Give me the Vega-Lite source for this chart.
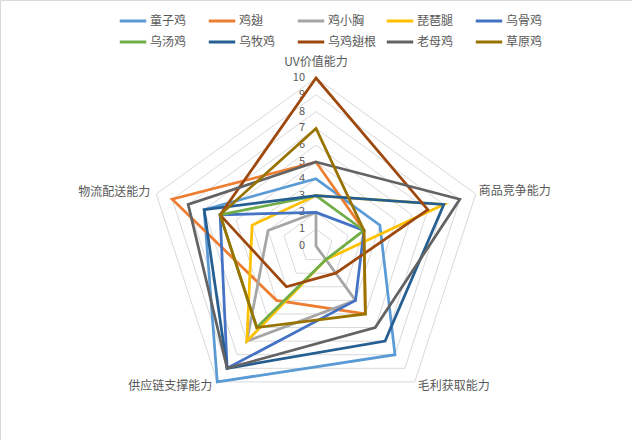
{
  "$schema": "https://vega.github.io/schema/vega-lite/v6.json",
  "width": 632,
  "height": 440,
  "autosize": {"type": "none"},
  "padding": 0,
  "config": {
    "view": {"stroke": "#D9D9D9"},
    "font": "Noto Sans CJK SC",
    "legend": {
      "orient": "none",
      "legendX": 118,
      "legendY": 6,
      "direction": "horizontal",
      "columns": 5,
      "gridAlign": "all",
      "columnPadding": 3,
      "rowPadding": -2,
      "padding": 0,
      "symbolType": "stroke",
      "symbolSize": 700,
      "symbolStrokeWidth": 3,
      "labelFont": "Noto Sans CJK SC",
      "labelFontSize": 12,
      "labelColor": "#595959",
      "labelOffset": 2,
      "title": null
    }
  },
  "datasets": {
    "scores": [
      {"series": "童子鸡", "axis": "UV价值能力", "value": 4},
      {"series": "童子鸡", "axis": "商品竞争能力", "value": 4},
      {"series": "童子鸡", "axis": "毛利获取能力", "value": 8},
      {"series": "童子鸡", "axis": "供应链支撑能力", "value": 10},
      {"series": "童子鸡", "axis": "物流配送能力", "value": 7},
      {"series": "鸡翅", "axis": "UV价值能力", "value": 5},
      {"series": "鸡翅", "axis": "商品竞争能力", "value": 3},
      {"series": "鸡翅", "axis": "毛利获取能力", "value": 5},
      {"series": "鸡翅", "axis": "供应链支撑能力", "value": 4},
      {"series": "鸡翅", "axis": "物流配送能力", "value": 9},
      {"series": "鸡小胸", "axis": "UV价值能力", "value": 2},
      {"series": "鸡小胸", "axis": "商品竞争能力", "value": 0},
      {"series": "鸡小胸", "axis": "毛利获取能力", "value": 4},
      {"series": "鸡小胸", "axis": "供应链支撑能力", "value": 7},
      {"series": "鸡小胸", "axis": "物流配送能力", "value": 3},
      {"series": "琵琶腿", "axis": "UV价值能力", "value": 3},
      {"series": "琵琶腿", "axis": "商品竞争能力", "value": 8},
      {"series": "琵琶腿", "axis": "毛利获取能力", "value": 1},
      {"series": "琵琶腿", "axis": "供应链支撑能力", "value": 7},
      {"series": "琵琶腿", "axis": "物流配送能力", "value": 4},
      {"series": "乌骨鸡", "axis": "UV价值能力", "value": 2},
      {"series": "乌骨鸡", "axis": "商品竞争能力", "value": 3},
      {"series": "乌骨鸡", "axis": "毛利获取能力", "value": 4},
      {"series": "乌骨鸡", "axis": "供应链支撑能力", "value": 9},
      {"series": "乌骨鸡", "axis": "物流配送能力", "value": 6},
      {"series": "乌汤鸡", "axis": "UV价值能力", "value": 3},
      {"series": "乌汤鸡", "axis": "商品竞争能力", "value": 3},
      {"series": "乌汤鸡", "axis": "毛利获取能力", "value": 1},
      {"series": "乌汤鸡", "axis": "供应链支撑能力", "value": 6},
      {"series": "乌汤鸡", "axis": "物流配送能力", "value": 6},
      {"series": "乌牧鸡", "axis": "UV价值能力", "value": 3},
      {"series": "乌牧鸡", "axis": "商品竞争能力", "value": 8},
      {"series": "乌牧鸡", "axis": "毛利获取能力", "value": 7},
      {"series": "乌牧鸡", "axis": "供应链支撑能力", "value": 9},
      {"series": "乌牧鸡", "axis": "物流配送能力", "value": 7},
      {"series": "乌鸡翅根", "axis": "UV价值能力", "value": 10},
      {"series": "乌鸡翅根", "axis": "商品竞争能力", "value": 7},
      {"series": "乌鸡翅根", "axis": "毛利获取能力", "value": 2},
      {"series": "乌鸡翅根", "axis": "供应链支撑能力", "value": 3},
      {"series": "乌鸡翅根", "axis": "物流配送能力", "value": 6},
      {"series": "老母鸡", "axis": "UV价值能力", "value": 5},
      {"series": "老母鸡", "axis": "商品竞争能力", "value": 9},
      {"series": "老母鸡", "axis": "毛利获取能力", "value": 6},
      {"series": "老母鸡", "axis": "供应链支撑能力", "value": 9},
      {"series": "老母鸡", "axis": "物流配送能力", "value": 8},
      {"series": "草原鸡", "axis": "UV价值能力", "value": 7},
      {"series": "草原鸡", "axis": "商品竞争能力", "value": 3},
      {"series": "草原鸡", "axis": "毛利获取能力", "value": 5},
      {"series": "草原鸡", "axis": "供应链支撑能力", "value": 6},
      {"series": "草原鸡", "axis": "物流配送能力", "value": 6}
    ],
    "axes": [
      {"axis": "UV价值能力", "idx": 0},
      {"axis": "商品竞争能力", "idx": 1},
      {"axis": "毛利获取能力", "idx": 2},
      {"axis": "供应链支撑能力", "idx": 3},
      {"axis": "物流配送能力", "idx": 4}
    ],
    "rings": [
      {"ring": 0}, {"ring": 1}, {"ring": 2}, {"ring": 3}, {"ring": 4}, {"ring": 5},
      {"ring": 6}, {"ring": 7}, {"ring": 8}, {"ring": 9}, {"ring": 10}
    ]
  },
  "encoding": {
    "x": {"field": "px", "type": "quantitative", "axis": null,
          "scale": {"domain": [-18.81, 18.81], "nice": false, "zero": false}},
    "y": {"field": "py", "type": "quantitative", "axis": null,
          "scale": {"domain": [-11.548, 14.643], "nice": false, "zero": false}}
  },
  "layer": [
    {
      "data": {"name": "rings"},
      "transform": [
        {"filter": "datum.ring > 0"},
        {"calculate": "[0, 1, 2, 3, 4]", "as": "idx"},
        {"flatten": ["idx"]},
        {"calculate": "datum.ring * sin(2 * PI * datum.idx / 5)", "as": "px"},
        {"calculate": "datum.ring * cos(2 * PI * datum.idx / 5)", "as": "py"}
      ],
      "mark": {"type": "line", "interpolate": "linear-closed", "stroke": "#D9D9D9", "strokeWidth": 1},
      "encoding": {
        "detail": {"field": "ring", "type": "nominal"},
        "order": {"field": "idx", "type": "quantitative"}
      }
    },
    {
      "data": {"name": "rings"},
      "transform": [
        {"calculate": "0", "as": "px"},
        {"calculate": "datum.ring", "as": "py"}
      ],
      "mark": {"type": "text", "align": "right", "baseline": "middle", "dx": -11, "fontSize": 11, "color": "#595959"},
      "encoding": {"text": {"field": "ring", "type": "nominal"}}
    },
    {
      "data": {"name": "scores"},
      "transform": [
        {"lookup": "axis", "from": {"data": {"name": "axes"}, "key": "axis", "fields": ["idx"]}},
        {"calculate": "datum.value * sin(2 * PI * datum.idx / 5)", "as": "px"},
        {"calculate": "datum.value * cos(2 * PI * datum.idx / 5)", "as": "py"}
      ],
      "mark": {"type": "line", "interpolate": "linear-closed", "strokeWidth": 2.75},
      "encoding": {
        "color": {
          "field": "series",
          "type": "nominal",
          "scale": {
            "domain": ["童子鸡", "鸡翅", "鸡小胸", "琵琶腿", "乌骨鸡", "乌汤鸡", "乌牧鸡", "乌鸡翅根", "老母鸡", "草原鸡"],
            "range": ["#5B9BD5", "#ED7D31", "#A5A5A5", "#FFC000", "#4472C4", "#70AD47", "#255E91", "#9E480E", "#636363", "#997300"]
          }
        },
        "order": {"field": "idx", "type": "quantitative"}
      }
    },
    {
      "data": {"name": "axes"},
      "transform": [
        {"filter": "datum.idx == 0"},
        {"calculate": "10 * sin(2 * PI * datum.idx / 5)", "as": "px"},
        {"calculate": "10 * cos(2 * PI * datum.idx / 5)", "as": "py"}
      ],
      "mark": {"type": "text", "align": "center", "baseline": "middle", "dy": -16, "fontSize": 12, "color": "#595959"},
      "encoding": {"text": {"field": "axis", "type": "nominal"}}
    },
    {
      "data": {"name": "axes"},
      "transform": [
        {"filter": "datum.idx == 1"},
        {"calculate": "10 * sin(2 * PI * datum.idx / 5)", "as": "px"},
        {"calculate": "10 * cos(2 * PI * datum.idx / 5)", "as": "py"}
      ],
      "mark": {"type": "text", "align": "left", "baseline": "middle", "dx": 3, "dy": -3, "fontSize": 12, "color": "#595959"},
      "encoding": {"text": {"field": "axis", "type": "nominal"}}
    },
    {
      "data": {"name": "axes"},
      "transform": [
        {"filter": "datum.idx == 2"},
        {"calculate": "10 * sin(2 * PI * datum.idx / 5)", "as": "px"},
        {"calculate": "10 * cos(2 * PI * datum.idx / 5)", "as": "py"}
      ],
      "mark": {"type": "text", "align": "left", "baseline": "middle", "dx": 3, "dy": 4, "fontSize": 12, "color": "#595959"},
      "encoding": {"text": {"field": "axis", "type": "nominal"}}
    },
    {
      "data": {"name": "axes"},
      "transform": [
        {"filter": "datum.idx == 3"},
        {"calculate": "10 * sin(2 * PI * datum.idx / 5)", "as": "px"},
        {"calculate": "10 * cos(2 * PI * datum.idx / 5)", "as": "py"}
      ],
      "mark": {"type": "text", "align": "right", "baseline": "middle", "dx": -5, "dy": 4, "fontSize": 12, "color": "#595959"},
      "encoding": {"text": {"field": "axis", "type": "nominal"}}
    },
    {
      "data": {"name": "axes"},
      "transform": [
        {"filter": "datum.idx == 4"},
        {"calculate": "10 * sin(2 * PI * datum.idx / 5)", "as": "px"},
        {"calculate": "10 * cos(2 * PI * datum.idx / 5)", "as": "py"}
      ],
      "mark": {"type": "text", "align": "right", "baseline": "middle", "dx": -6, "dy": -2, "fontSize": 12, "color": "#595959"},
      "encoding": {"text": {"field": "axis", "type": "nominal"}}
    }
  ]
}
